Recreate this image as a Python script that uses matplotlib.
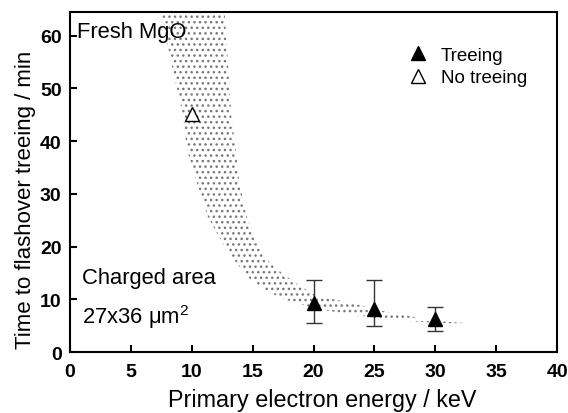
import numpy as np
import matplotlib
matplotlib.use("Agg")
import matplotlib.pyplot as plt

# data
energy_treeing = [20, 25, 30]
time_treeing = [9.4, 8.1, 6.3]
err_low = [5.6, 5.0, 4.0]
err_high = [13.7, 13.7, 8.5]

energy_no_treeing = [10]
time_no_treeing = [45.2]

# shaded band (hand-drawn guide), left/lower edge and right/upper edge
band_left_x = [7.5, 8.3, 9.3, 9.6, 10.4, 11.3, 12.8, 14.6, 16.4, 17.5, 20.2, 22.95, 25.7, 28.4, 31.1, 32.5]
band_left_y = [64.5, 55.0, 44.8, 38.5, 32.3, 25.8, 19.5, 14.2, 11.3, 10.1, 8.2, 7.2, 6.3, 5.8, 5.4, 5.4]
band_right_x = [12.7, 13.25, 13.6, 13.9, 14.5, 15.6, 16.4, 17.5, 18.85, 20.2, 22.95, 25.7, 28.4, 30.1, 32.5]
band_right_y = [64.5, 44.8, 38.5, 32.3, 25.8, 19.5, 17.0, 14.8, 12.6, 10.7, 9.4, 7.8, 6.6, 5.9, 5.5]

plt.rcParams['font.family'] = ['Liberation Sans', 'DejaVu Sans']
plt.rcParams['hatch.linewidth'] = 1.0

fig = plt.figure(figsize=(5.68, 4.14), dpi=100)
ax = fig.add_axes([0.123, 0.147, 0.858, 0.822])

# band
px = np.concatenate([band_left_x, band_right_x[::-1]])
py = np.concatenate([band_left_y, band_right_y[::-1]])
ax.fill(px, py, facecolor='none', edgecolor='#777777', hatch='...', linewidth=0)

# data points
yerr = [np.array(time_treeing) - np.array(err_low), np.array(err_high) - np.array(time_treeing)]
ax.errorbar(energy_treeing, time_treeing, yerr=yerr, fmt='none', ecolor='#333333',
            elinewidth=1.0, capsize=5.5, capthick=1.0)
ax.plot(energy_treeing, time_treeing, '^', color='black', ms=10, label='Treeing')
ax.plot(energy_no_treeing, time_no_treeing, '^', mfc='white', mec='black', mew=1.0,
        ms=10, label='No treeing')

ax.set_xlim(0, 40)
ax.set_ylim(0, 64.5)
ax.set_xticks(range(0, 41, 5))
ax.set_yticks(range(0, 61, 10))
ax.tick_params(direction='in', length=5, width=1.5, labelsize=14)
ax.tick_params(axis='x', pad=8)
ax.tick_params(axis='y', pad=6)
for lab in ax.get_xticklabels() + ax.get_yticklabels():
    lab.set_fontweight('bold')
for s in ax.spines.values():
    s.set_linewidth(1.5)

ax.set_xlabel('Primary electron energy / keV', fontsize=16.8)
ax.xaxis.set_label_coords(0.517, -0.105)
ax.set_ylabel('Time to flashover treeing / min', fontsize=16)
ax.yaxis.set_label_coords(-0.07, 0.45)

ax.text(0.6, 60.7, 'Fresh MgO', fontsize=15.8, va='center', ha='left')
ax.text(1.0, 14.2, 'Charged area', fontsize=15.8, va='center', ha='left')
ax.text(1.0, 6.8, r'27x36 $\mathregular{\mu m^2}$', fontsize=15.8, va='center', ha='left')

ax.legend(loc='upper left', bbox_to_anchor=(0.68, 0.92), frameon=False, fontsize=13.5,
          handlelength=1.0, handletextpad=0.7, labelspacing=0.3, borderaxespad=0)

fig.savefig('out.png', dpi=100)
